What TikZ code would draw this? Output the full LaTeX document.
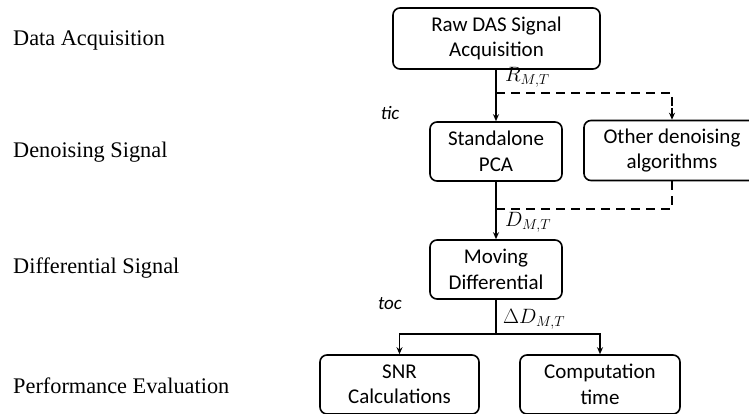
\documentclass[tikz,border=0pt]{standalone}
\usepackage{fontspec}
\setmainfont{Liberation Serif}
\newfontfamily\boxfont{Carlito}
\usetikzlibrary{arrows.meta,calc}
\begin{document}
\begin{tikzpicture}[x=1pt,y=-1pt,
  procbox/.style={draw, line width=1.6pt, rounded corners=7pt, align=center,
    font=\boxfont\fontsize{21}{25.5}\selectfont, inner sep=0pt},
  stagelabel/.style={anchor=west, font=\fontsize{22.3}{25}\selectfont, inner sep=0pt},
  flow/.style={line width=1.2pt, -{Stealth[length=7pt,width=6pt]}},
  dflow/.style={line width=1.2pt, dash pattern=on 9pt off 6pt},
  sym/.style={anchor=west, inner sep=0pt, font=\fontsize{20}{22}\selectfont},
  tictoc/.style={inner sep=0pt, font=\boxfont\itshape\fontsize{19}{22}\selectfont}]
\useasboundingbox (0,0) rectangle (749,414);
\begin{scope}
\clip (0,0) rectangle (749,414);
% stage labels
\node[stagelabel] (l1) at (13,40) {Data Acquisition};
\node[stagelabel] (l2) at (13,152) {Denoising Signal};
\node[stagelabel] (l3) at (13,268) {Differential Signal};
\node[stagelabel] (l4) at (13,386) {Performance Evaluation};
% boxes
\node[procbox, minimum width=207pt, minimum height=61pt] (raw) at (496.5,38.5) {Raw DAS Signal\\Acquisition};
\node[procbox, minimum width=132pt, minimum height=59pt] (pca) at (496,151.5) {Standalone\\PCA};
\node[procbox, minimum width=176pt, minimum height=60pt] (oth) at (672,150.5) {Other denoising\\algorithms};
\node[procbox, minimum width=132pt, minimum height=59pt] (mov) at (496,269.5) {Moving\\Differential};
\node[procbox, minimum width=159pt, minimum height=59pt] (snr) at (399.5,384.5) {SNR\\Calculations};
\node[procbox, minimum width=160pt, minimum height=59pt] (cmp) at (600,384.5) {Computation\\time};
% helper coordinates
\coordinate (r1) at (496,93);
\coordinate (r2) at (672,108);
\coordinate (d1) at (496,209);
\coordinate (s1) at (496,334);
% connectors
\draw[flow] (raw.south -| pca.north) -- (pca.north);
\draw[dflow] (r1) -| (r2);
\draw[flow] (r2) -- (oth.north);
\draw[flow] (pca.south) -- (mov.north);
\draw[dflow] (oth.south) |- (d1);
\draw[line width=1.2pt] (mov.south) -- (s1);
\draw[flow] (s1) -| (snr.north);
\draw[flow] (s1) -| (cmp.north);
% labels
\node[sym] (rl) at (505,77) {$R_{M,T}$};
\node[sym] (dl) at (505,222) {$D_{M,T}$};
\node[sym] (ddl) at (503,319) {$\Delta D_{M,T}$};
\node[tictoc] (tic) at (390,113) {tic};
\node[tictoc] (toc) at (390,304) {toc};
\end{scope}
\end{tikzpicture}
\end{document}
